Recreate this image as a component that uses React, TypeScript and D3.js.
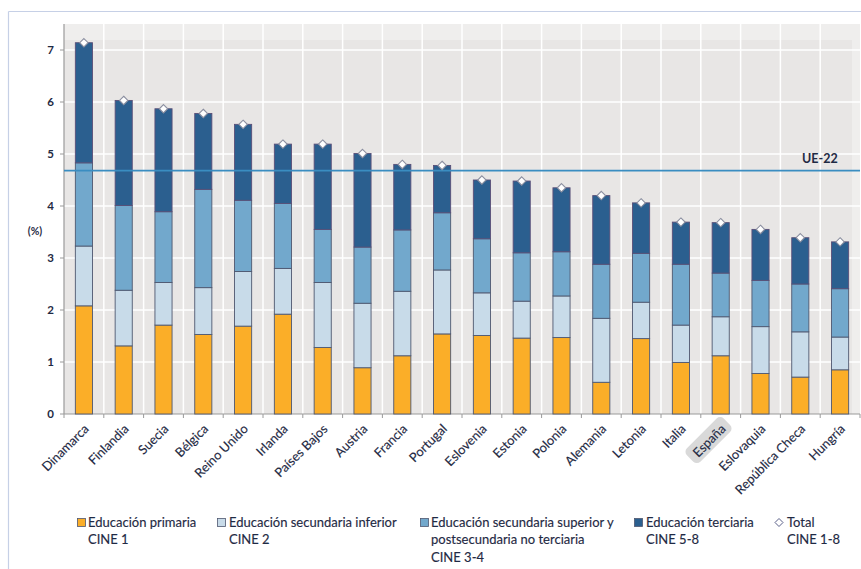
import React from "react";
import * as d3 from "d3";

const countries = ["Dinamarca","Finlandia","Suecia","Bélgica","Reino Unido","Irlanda","Países Bajos","Austria","Francia","Portugal","Eslovenia","Estonia","Polonia","Alemania","Letonia","Italia","España","Eslovaquia","República Checa","Hungría"];
const primaria = [2.08,1.31,1.71,1.53,1.69,1.92,1.28,0.89,1.12,1.54,1.51,1.46,1.47,0.61,1.45,0.99,1.12,0.78,0.71,0.85];
const secInferior = [1.15,1.07,0.82,0.90,1.05,0.88,1.25,1.24,1.24,1.23,0.82,0.71,0.80,1.23,0.70,0.72,0.75,0.90,0.87,0.63];
const secSuperior = [1.60,1.63,1.36,1.89,1.37,1.25,1.02,1.08,1.18,1.10,1.04,0.93,0.85,1.04,0.94,1.17,0.84,0.89,0.92,0.93];
const terciaria = [2.31,2.02,1.98,1.46,1.46,1.14,1.64,1.80,1.26,0.91,1.13,1.38,1.23,1.32,0.97,0.81,0.97,0.98,0.89,0.90];
const totals = [7.14,6.03,5.87,5.78,5.57,5.19,5.19,5.01,4.80,4.78,4.50,4.48,4.35,4.20,4.06,3.69,3.68,3.55,3.39,3.31];
const ue22 = 4.68;
const yTicks = [0,1,2,3,4,5,6,7];
const seriesKeys = ["primaria","secInferior","secSuperior","terciaria"];
const seriesColors = ["#fbae28","#c8dbe9","#72a8cc","#2b5f8f"];
const legendLines = [
  ["Educación primaria","CINE 1"],
  ["Educación secundaria inferior","CINE 2"],
  ["Educación secundaria superior y","postsecundaria no terciaria","CINE 3-4"],
  ["Educación terciaria","CINE 5-8"],
  ["Total","CINE 1-8"],
];

const W = 861, H = 569;
const L = 64, R = 860, T = 24, B = 414;
const FONT = "Lato, 'Open Sans', sans-serif";
const TXT = "#1f2a44";

export default function App() {
  const x = d3.scaleBand<string>().domain(countries).range([L, R]).padding(0);
  const y = d3.scaleLinear().domain([0, 7.5]).range([B, T]);
  const rows = countries.map((c, i) => ({
    c, primaria: primaria[i], secInferior: secInferior[i], secSuperior: secSuperior[i], terciaria: terciaria[i],
  }));
  const stacked = d3.stack<any>().keys(seriesKeys)(rows);
  const bw = x.bandwidth() * 0.43;
  const legendX = [[77, 88], [217, 229], [420, 431], [634, 646], [775, 787]];
  const diamond = (cx: number, cy: number, r: number) =>
    `M${cx},${cy - r}L${cx + r},${cy}L${cx},${cy + r}L${cx - r},${cy}Z`;

  return (
    <svg width={W} height={H} style={{ position: "absolute", left: 0, top: 0 }} fontFamily={FONT}>
      <rect x={0} y={0} width={W} height={H} fill="#fff" />
      <line x1={8.5} y1={11.5} x2={W} y2={11.5} stroke="#c6d0e6" strokeWidth={1.2} />
      <line x1={8.5} y1={11.5} x2={8.5} y2={H} stroke="#c6d0e6" strokeWidth={1.2} />
      <rect x={L} y={T} width={R - L} height={B - T} fill="#efeeed" />
      <rect x={L} y={40} width={852 - L} height={B - 40} fill="#e8e6e5" />
      {yTicks.filter(t => t > 0).map(t => (
        <line key={t} x1={L} x2={R} y1={y(t)} y2={y(t)} stroke="#fff" strokeWidth={1.5} />
      ))}
      {countries.slice(1).map(c => (
        <line key={c} x1={x(c)!} x2={x(c)!} y1={T} y2={B} stroke="#fff" strokeWidth={1.5} />
      ))}
      {/* axes */}
      <line x1={L} x2={R} y1={B} y2={B} stroke="#9a9a9a" strokeWidth={1.2} />
      <line x1={L} x2={L} y1={T} y2={B} stroke="#9a9a9a" strokeWidth={1.2} />
      {countries.map((c) => (
        <line key={"xt" + c} x1={x(c)!} x2={x(c)!} y1={B} y2={B + 4} stroke="#9a9a9a" />
      ))}
      <line x1={R} x2={R} y1={B} y2={B + 4} stroke="#9a9a9a" />
      {yTicks.map(t => (
        <g key={"yt" + t}>
          <line x1={L - 4} x2={L} y1={y(t)} y2={y(t)} stroke="#9a9a9a" />
          <text x={54} y={y(t)} dy="0.35em" textAnchor="end" fontSize={11.5} fontWeight="bold" fill={TXT}>{t}</text>
        </g>
      ))}
      <text x={35} y={231} dy="0.35em" textAnchor="middle" fontSize={10.5} fontWeight="bold" fill={TXT}>(%)</text>
      {/* bars */}
      {stacked.map((s, si) => (
        <g key={s.key}>
          {s.map((d, i) => (
            <rect key={i} x={x(countries[i])! + x.bandwidth() / 2 - bw / 2} y={y(d[1])}
              width={bw} height={y(d[0]) - y(d[1])} fill={seriesColors[si]}
              stroke={si === 3 ? "#5a4f78" : "#4f5870"} strokeWidth={0.9} />
          ))}
        </g>
      ))}
      {/* UE-22 */}
      <line x1={L} x2={R} y1={y(ue22)} y2={y(ue22)} stroke="#3a8dc1" strokeWidth={1.6} />
      <text x={802} y={y(ue22) - 8} fontSize={12.5} fontWeight="bold" fill={TXT}>UE-22</text>
      {/* totals */}
      {totals.map((t, i) => (
        <path key={"tot" + i} d={diamond(x(countries[i])! + x.bandwidth() / 2, y(t), 4.2)}
          fill="#fff" stroke="#8b8fa0" strokeWidth={1.1} />
      ))}
      {/* x labels */}
      {countries.map((c) => {
        const cx = x(c)! + x.bandwidth() / 2;
        return (
          <g key={"xl" + c} transform={`translate(${cx + 3},${427}) rotate(-45)`}>
            {c === "España" && (
              <rect x={-46} y={-11} width={52} height={19} rx={5} fill="#d9d9d9" />
            )}
            <text x={0} y={0} dy="0.3em" textAnchor="end" fontSize={12.8} fill={TXT}
              stroke={TXT} strokeWidth={0.15}>{c}</text>
          </g>
        );
      })}
      {/* legend */}
      {legendLines.map((lines, li) => (
        <g key={"lg" + li}>
          {li < 4 ? (
            <rect x={legendX[li][0] + 0.5} y={518.5} width={8} height={8} fill={seriesColors[li]} stroke="#4f5870" strokeWidth={0.8} />
          ) : (
            <path d={diamond(legendX[li][0] + 4, 522.5, 4)} fill="#fff" stroke="#5a5f88" strokeWidth={1} />
          )}
          {lines.map((ln, k) => (
            <text key={k} x={legendX[li][1]} y={527 + k * 17.3} fontSize={13} fill={TXT}
              stroke={TXT} strokeWidth={0.15}>{ln}</text>
          ))}
        </g>
      ))}
    </svg>
  );
}
